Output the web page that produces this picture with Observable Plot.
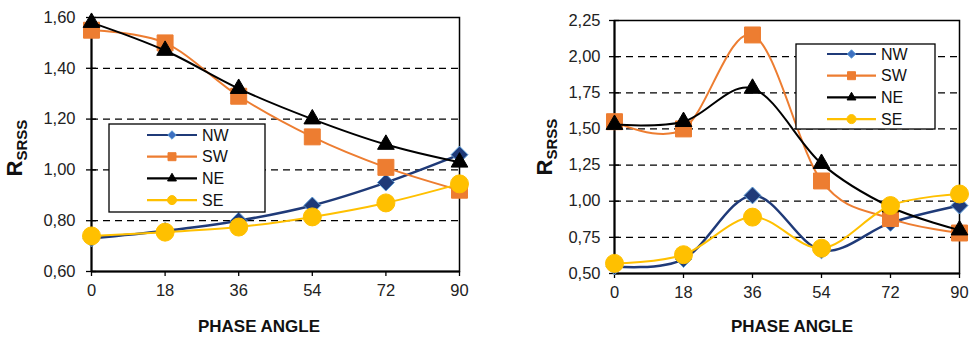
<!DOCTYPE html>
<html>
<head>
<meta charset="utf-8">
<script src="https://cdn.jsdelivr.net/npm/d3@7"></script>
<script src="https://cdn.jsdelivr.net/npm/@observablehq/plot@0.6"></script>
<style>
  body { margin: 0; background: #fff; }
  #wrap { display: flex; width: 976px; height: 337px; }
  svg { font-family: "Liberation Sans", Arial, sans-serif; }
  svg g[aria-label="y-axis tick label"], svg g[aria-label="x-axis tick label"] { font-size: 16.5px !important; }
</style>
</head>
<body>
<div id="wrap"></div>
<script>
// ---- Data ----
const angles = [0, 18, 36, 54, 72, 90];
const seriesNames = ["NW", "SW", "NE", "SE"];
const colors = ["#1f3a78", "#ed7d31", "#000000", "#ffc000"];

const leftNW = [0.73, 0.76, 0.80, 0.86, 0.95, 1.06];
const leftSW = [1.55, 1.50, 1.29, 1.13, 1.01, 0.92];
const leftNE = [1.58, 1.47, 1.32, 1.20, 1.10, 1.03];
const leftSE = [0.74, 0.755, 0.775, 0.815, 0.87, 0.945];

const rightNW = [0.55, 0.60, 1.04, 0.66, 0.85, 0.97];
const rightSW = [1.55, 1.50, 2.15, 1.14, 0.88, 0.78];
const rightNE = [1.53, 1.55, 1.78, 1.26, 0.96, 0.80];
const rightSE = [0.57, 0.63, 0.89, 0.675, 0.97, 1.05];

const leftYTicks = [0.60, 0.80, 1.00, 1.20, 1.40, 1.60];
const rightYTicks = [0.50, 0.75, 1.00, 1.25, 1.50, 1.75, 2.00, 2.25];

const xLabel = "PHASE ANGLE";
const yLabelMain = "R";
const yLabelSub = "SRSS";

// ---- Helpers ----
const fmt = d => d.toFixed(2).replace(".", ",");
const symbols = ["diamond2", "square", "triangle", "circle"];
const d3symbols = [d3.symbolDiamond2, d3.symbolSquare, d3.symbolTriangle, d3.symbolCircle];
const markerR = [7.6, 9, 6.2, 9];
const markerFill = ["#1f3a78", "#ed7d31", "#000000", "#ffc000"];
const markerStroke = ["#5b9bd5", "#ed7d31", "#000000", "#ffc000"];

function makeRows(arrs) {
  const rows = [];
  arrs.forEach((arr, i) => arr.forEach((v, j) => rows.push({series: seriesNames[i], angle: angles[j], value: v})));
  return rows;
}

function panel(o) {
  const rows = makeRows(o.values);
  const yMin = o.yTicks[0], yMax = o.yTicks[o.yTicks.length - 1];
  const grid = o.yTicks.slice(1, -1);
  const marks = [
    Plot.ruleY(grid, {stroke: "#000", strokeWidth: 1.3, strokeDasharray: "7,5"}),
    Plot.frame({stroke: "#000", strokeWidth: 1.5}),
    Plot.ruleX([0], {stroke: "#000", strokeWidth: 2}),
    Plot.ruleY([yMin], {stroke: "#000", strokeWidth: 2}),
    Plot.axisY({ticks: o.yTicks, tickFormat: fmt, tickSize: 10, dx: 5, tickPadding: o.yPad, fontSize: 16.5, label: null, stroke: "#000", strokeWidth: 1.3, fill: "#222"}),
    Plot.axisX({ticks: angles, tickFormat: d => String(d), tickSize: 5, tickPadding: 8, fontSize: 16.5, label: null, stroke: "#000", strokeWidth: 1.3, fill: "#222"})
  ];
  seriesNames.forEach((s, i) => {
    const d = rows.filter(r => r.series === s);
    marks.push(Plot.line(d, {x: "angle", y: "value", curve: "cardinal", stroke: colors[i], strokeWidth: i === 0 ? 2.5 : 2}));
    marks.push(Plot.dot(d, {x: "angle", y: "value", symbol: () => symbols[i], r: markerR[i], fill: markerFill[i], stroke: markerStroke[i], strokeWidth: 1}));
  });
  const chart = Plot.plot({
    width: o.width, height: 337,
    marginLeft: o.ml, marginRight: o.mr, marginTop: o.mt, marginBottom: o.mb,
    x: {domain: [0, 90]},
    y: {domain: [yMin, yMax]},
    symbol: {type: "identity"},
    style: {fontFamily: '"Liberation Sans", Arial, sans-serif', background: "#fff"},
    marks
  });
  const svg = d3.select(chart);
  // x label
  svg.append("text").attr("x", o.xlx).attr("y", o.xly).attr("text-anchor", "middle")
    .style("font-weight", "bold").style("font-size", "17px").attr("fill", "#111").text(xLabel);
  // y label with subscript
  const yl = svg.append("text").attr("transform", `translate(${o.ylx},${o.yly}) rotate(-90)`)
    .attr("text-anchor", "middle").style("font-weight", "bold").attr("fill", "#111");
  yl.append("tspan").style("font-size", "22px").text(yLabelMain);
  yl.append("tspan").style("font-size", "15px").attr("dy", 5).text(yLabelSub);
  // legend
  const L = o.legend;
  const g = svg.append("g").attr("transform", `translate(${L.x},${L.y})`);
  g.append("rect").attr("width", L.w).attr("height", L.h).attr("fill", "#fff").attr("stroke", "#000").attr("stroke-width", 1.3);
  const smallR = [3.8, 4.5, 3.3, 4.5];
  seriesNames.forEach((s, i) => {
    const yy = L.y0 + i * L.step;
    g.append("line").attr("x1", L.lx1).attr("x2", L.lx2).attr("y1", yy).attr("y2", yy)
      .attr("stroke", colors[i]).attr("stroke-width", 2.2);
    const area = Math.PI * smallR[i] * smallR[i];
    g.append("path").attr("d", d3.symbol(d3symbols[i], area)())
      .attr("transform", `translate(${(L.lx1 + L.lx2) / 2},${yy})`)
      .attr("fill", i === 0 ? "#3d6fc0" : markerFill[i]).attr("stroke", markerStroke[i]).attr("stroke-width", 1);
    g.append("text").attr("x", L.tx).attr("y", yy + 5.5).attr("text-anchor", "start")
      .style("font-size", "16px").attr("fill", "#111").text(s);
  });
  return chart;
}

const wrap = document.getElementById("wrap");
wrap.appendChild(panel({
  width: 490, ml: 91, mr: 31, mt: 17, mb: 66, yPad: 11,
  yTicks: leftYTicks, values: [leftNW, leftSW, leftNE, leftSE],
  xlx: 259, xly: 332, ylx: 22, yly: 148,
  legend: {x: 109, y: 124, w: 156, h: 88, y0: 11, step: 21.7, lx1: 38, lx2: 88, tx: 93}
}));
wrap.appendChild(panel({
  width: 486, ml: 124, mr: 17, mt: 20, mb: 64, yPad: 9,
  yTicks: rightYTicks, values: [rightNW, rightSW, rightNE, rightSE],
  xlx: 302, xly: 332, ylx: 62, yly: 147,
  legend: {x: 306, y: 44, w: 139, h: 85, y0: 10, step: 21.7, lx1: 31, lx2: 80, tx: 85}
}));
</script>
</body>
</html>
